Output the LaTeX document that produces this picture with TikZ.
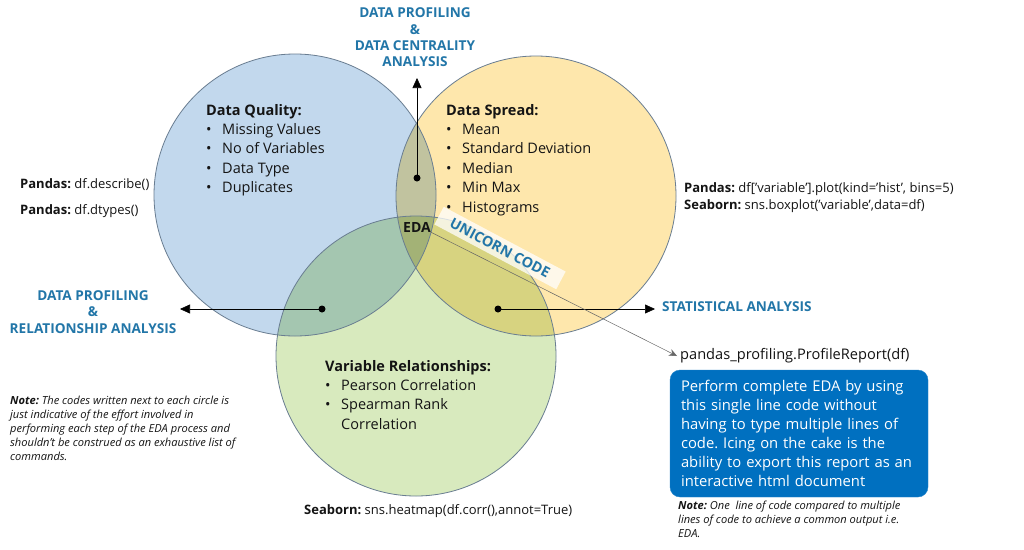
\documentclass[tikz,border=0pt]{standalone}
\usepackage{fontspec}
\setmainfont{Open Sans}
\usetikzlibrary{arrows.meta}
\definecolor{cblue}{RGB}{194,216,237}
\definecolor{cyellow}{RGB}{254,231,172}
\definecolor{cgreen}{RGB}{216,234,190}
\definecolor{cedge}{RGB}{105,125,145}
\definecolor{labblue}{RGB}{34,118,168}
\definecolor{boxblue}{RGB}{0,112,192}
\definecolor{txt}{RGB}{20,20,20}
\newcommand{\bul}[1]{\makebox[16pt][l]{\textbullet}#1}
\frenchspacing
\begin{document}
\begin{tikzpicture}[x=1pt,y=-1pt,
  circ/.style={draw=cedge,line width=0.8pt},
  dotnode/.style={circle,fill=black,minimum size=7pt,inner sep=0pt},
  arr/.style={line width=0.6pt,-{Triangle[length=10pt,width=9pt]}},
  head/.style={anchor=base west,inner sep=0pt,font=\fontsize{14.5}{17}\selectfont\bfseries,text=txt},
  item/.style={anchor=base west,inner sep=0pt,font=\fontsize{14.5}{17}\selectfont,text=txt},
  lab/.style={align=center,inner sep=0pt,font=\fontsize{13.6}{16.4}\selectfont\bfseries,text=labblue},
  code/.style={anchor=base west,inner sep=0pt,font=\fontsize{13}{15}\selectfont,text=txt},
  note/.style={anchor=north west,align=left,inner sep=0pt,font=\fontsize{11.1}{14}\selectfont\itshape,text=txt}]
\useasboundingbox (0,0) rectangle (1024,549);
\fill[white] (0,0) rectangle (1024,549);
% circles
\begin{scope}[blend group=multiply]
\fill[cblue] (295,195) circle[radius=141pt];
\fill[cyellow] (536,196) circle[radius=140pt];
\fill[cgreen] (416,356) circle[radius=140pt];
\end{scope}
\draw[circ] (295,195) circle[radius=141pt];
\draw[circ] (536,196) circle[radius=140pt];
\draw[circ] (416,356) circle[radius=140pt];
% Data Quality
\node[head] (dq0) at (206,115) {Data Quality:};
\node[item] (dq1) at (206,134) {\bul{Missing Values}};
\node[item] (dq2) at (206,153.5) {\bul{No of Variables}};
\node[item] (dq3) at (206,173) {\bul{Data Type}};
\node[item] (dq4) at (206,192.5) {\bul{Duplicates}};
% Data Spread
\node[head] (ds0) at (446,115) {Data Spread:};
\node[item] (ds1) at (446,134) {\bul{Mean}};
\node[item] (ds2) at (446,153.5) {\bul{Standard Deviation}};
\node[item] (ds3) at (446,173) {\bul{Median}};
\node[item] (ds4) at (446,192.5) {\bul{Min Max}};
\node[item] (ds5) at (446,212) {\bul{Histograms}};
% Variable Relationships
\node[head] (vr0) at (325,371) {Variable Relationships:};
\node[item] (vr1) at (325,390) {\bul{Pearson Correlation}};
\node[item] (vr2) at (325,409.5) {\bul{Spearman Rank}};
\node[item] (vr3) at (325,429) {\hspace{16pt}Correlation};
% EDA
\node[inner sep=0pt,font=\fontsize{14}{16}\selectfont\bfseries,text=txt] (eda) at (417,227) {EDA};
% unicorn band
\node[rotate=-28,fill=white,fill opacity=0.75,text opacity=1,minimum width=138pt,minimum height=20pt,inner sep=0pt,font=\fontsize{14.3}{16}\selectfont\bfseries,text=labblue] (uc) at (500,248) {UNICORN CODE};
% dots and arrows
\node[dotnode] (dtop) at (417,178) {};
\node[dotnode] (dleft) at (322,309) {};
\node[dotnode] (dright) at (498,309) {};
\coordinate (atop) at (417,78);
\coordinate (aleft) at (180,309);
\coordinate (aright) at (655,309);
\draw[arr] (dtop.center) -- (atop);
\draw[arr] (dleft.center) -- (aleft);
\draw[arr] (dright.center) -- (aright);
% labels
\node[lab] (ltop) at (415,37.5) {DATA PROFILING\\\&\\DATA CENTRALITY\\ANALYSIS};
\node[lab] (lleft) at (93,312) {DATA PROFILING\\\&\\RELATIONSHIP ANALYSIS};
\node[lab,anchor=west] (lright) at (662,307) {STATISTICAL ANALYSIS};
% code labels
\node[code] (c1) at (20,188) {\textbf{Pandas:} df.describe()};
\node[code] (c2) at (20,214) {\textbf{Pandas:} df.dtypes()};
\node[code] (c3) at (684,192) {\textbf{Pandas:} df['variable'].plot(kind='hist', bins=5)};
\node[code] (c4) at (684,209) {\textbf{Seaborn:} sns.boxplot('variable',data=df)};
\node[code] (c5) at (304,514) {\textbf{Seaborn:} sns.heatmap(df.corr(),annot=True)};
% profile report
\node[anchor=west,inner sep=0pt,font=\fontsize{14.6}{17}\selectfont,text=txt] (pp) at (680,356) {pandas\_profiling.ProfileReport(df)};
\draw[line width=0.5pt,draw=gray!80!black,-{Stealth[length=8pt,width=7pt]}] (eda.south east) -- ([xshift=-3pt]pp.west);
\node[draw=boxblue!85!white,fill=boxblue,rounded corners=10pt,minimum width=258pt,minimum height=127pt,text width=236pt,align=left,inner sep=0pt,font=\fontsize{14.8}{19}\selectfont,text=white] (box) at (799,433.5) {Perform complete EDA by using\\this single line code without\\having to type multiple lines of\\code. Icing on the cake is the\\ability to export this report as an\\interactive html document};
% notes
\node[note] (n1) at (10,396) {\textbf{Note:} The codes written next to each circle is\\just indicative of the effort involved in\\performing each step of the EDA process and\\shouldn't be construed as an exhaustive list of\\commands.};
\node[note] (n2) at (678,501) {\textbf{Note:} One\ \ line of code compared to multiple\\lines of code to achieve a common output i.e.\\EDA.};
\end{tikzpicture}
\end{document}
